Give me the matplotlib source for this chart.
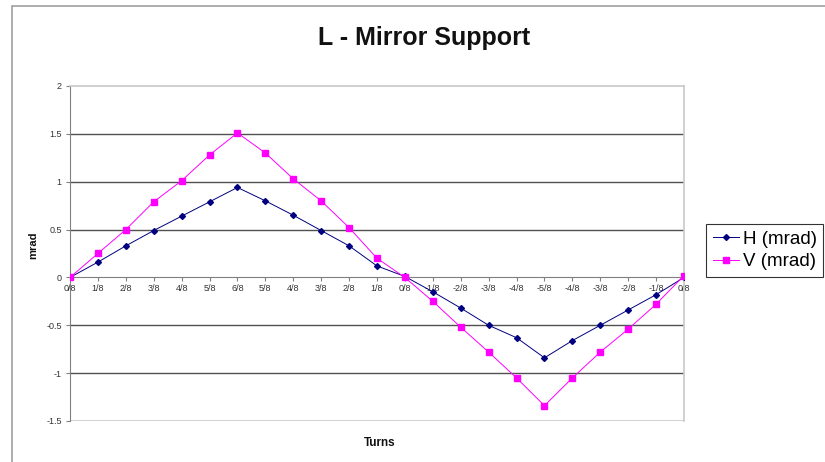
import matplotlib.pyplot as plt
from matplotlib.patches import Rectangle

plt.rcParams['font.family'] = ['Liberation Sans', 'DejaVu Sans']

# turns of the adjuster, out and back
turns = ['0/8', '1/8', '2/8', '3/8', '4/8', '5/8', '6/8', '5/8', '4/8', '3/8', '2/8', '1/8',
         '0/8', '-1/8', '-2/8', '-3/8', '-4/8', '-5/8', '-4/8', '-3/8', '-2/8', '-1/8', '0/8']
h_mrad = [0, 0.16, 0.33, 0.49, 0.64, 0.79, 0.94, 0.80, 0.65, 0.49, 0.33, 0.12,
          0.01, -0.15, -0.32, -0.50, -0.63, -0.84, -0.66, -0.50, -0.34, -0.18, 0.0]
v_mrad = [0, 0.25, 0.50, 0.79, 1.01, 1.28, 1.51, 1.30, 1.03, 0.80, 0.52, 0.20,
          0.0, -0.25, -0.52, -0.78, -1.05, -1.34, -1.05, -0.78, -0.54, -0.28, 0.02]
y_ticks = [2, 1.5, 1, 0.5, 0, -0.5, -1, -1.5]

fig = plt.figure(figsize=(8.25, 4.62), dpi=100)
ax = fig.add_axes([70 / 825, 1 - 421 / 462, 614 / 825, 335 / 462])

# chart area outline
fig.patches.append(Rectangle((12 / 825, -0.1), 1.2, 1 - 6 / 462 + 0.1,
                             transform=fig.transFigure, fill=False,
                             edgecolor='#a0a0a0', linewidth=1.2))

x = list(range(len(turns)))
ax.set_xlim(0, len(turns) - 1)
ax.set_ylim(-1.5, 2)

# gridlines
for y in [1.5, 1, 0.5, -0.5, -1]:
    ax.axhline(y, color='#505050', linewidth=1.0, zorder=1)
ax.axhline(-1.5, color='#c8c8c8', linewidth=1.2, zorder=1)

ax.plot(x, h_mrad, color='#000080', linewidth=0.7, marker='D', markersize=3.0,
        label='H (mrad)', zorder=3)
ax.plot(x, v_mrad, color='#ff00ff', linewidth=0.7, marker='s', markersize=4.0,
        label='V (mrad)', zorder=3)

for side in ['top', 'right']:
    ax.spines[side].set_color('#c8c8c8')
    ax.spines[side].set_linewidth(1.2)
ax.spines['left'].set_color('#808080')
ax.spines['bottom'].set_color('#808080')
ax.spines['bottom'].set_position(('data', 0))
ax.spines['bottom'].set_zorder(2)

ax.set_xticks(x)
ax.set_xticklabels(turns)
ax.set_yticks(y_ticks)
ax.set_yticklabels(['2', '1.5', '1', '0.5', '0', '-0.5', '-1', '-1.5'])
ax.tick_params(axis='x', direction='out', length=3, color='#808080',
               labelsize=6.5, labelcolor='#333333', pad=2)
ax.tick_params(axis='y', direction='out', length=3, color='#808080',
               labelsize=6.5, labelcolor='#333333', pad=3)

fig.text(424 / 825, 1 - 38 / 462, 'L - Mirror Support', ha='center', va='center',
         fontsize=18, fontweight='bold', color='#111111')
fig.text(33 / 825, 1 - 245 / 462, 'mrad', rotation=90, ha='center', va='center',
         fontsize=8, fontweight='bold', color='#111111')
fig.text(380 / 825, 1 - 443 / 462, 'Turns', ha='center', va='center',
         fontsize=8.5, fontweight='bold', color='#111111')

leg = fig.legend(loc='upper left', bbox_to_anchor=(706 / 825, 1 - 224 / 462),
                 fontsize=13.5, frameon=True, fancybox=False, handlelength=1.4,
                 handletextpad=0.2, borderpad=0.35, labelspacing=0.3, borderaxespad=0)
leg.get_frame().set_edgecolor('#000000')
leg.get_frame().set_linewidth(0.8)

fig.savefig('out.png', dpi=100)
